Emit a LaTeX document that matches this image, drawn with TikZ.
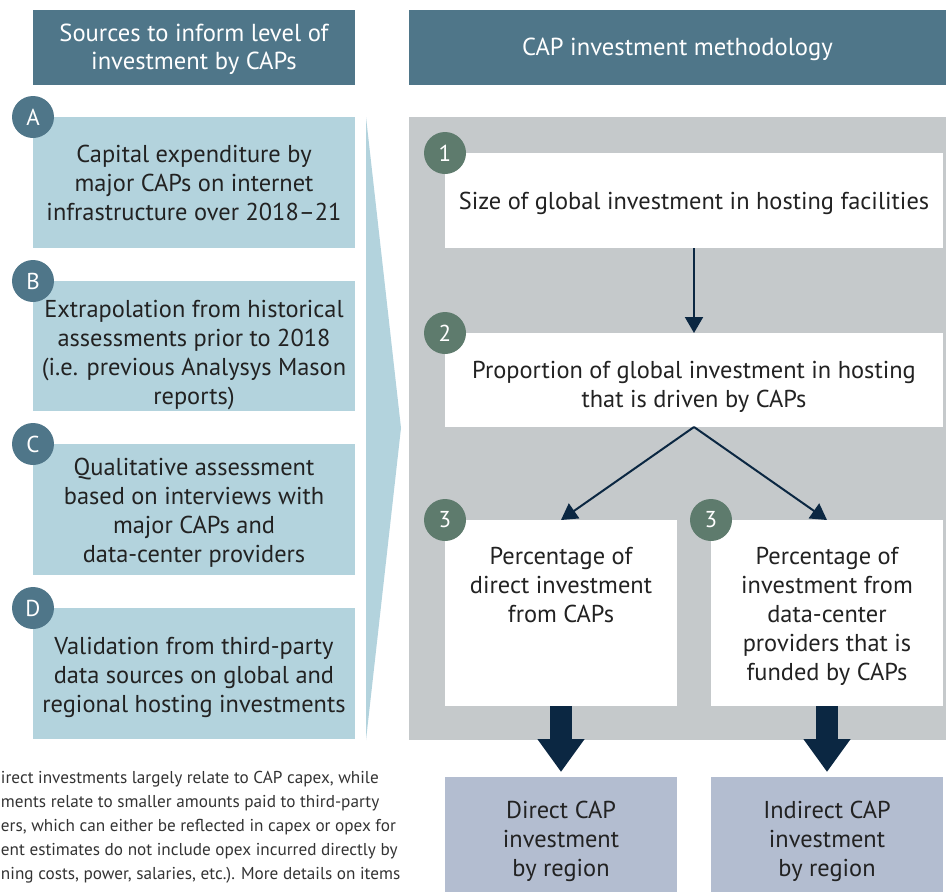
\documentclass[tikz,border=0pt]{standalone}
\usepackage{fontspec}
\setmainfont{PT Sans}
\usetikzlibrary{positioning,arrows.meta}
\definecolor{headblue}{HTML}{4F7689}
\definecolor{srcblue}{HTML}{B3D3DD}
\definecolor{panelgray}{HTML}{C5C9CB}
\definecolor{stepgreen}{HTML}{5E7B6D}
\definecolor{arrownavy}{HTML}{0B2742}
\definecolor{resultblue}{HTML}{B3BDD0}
\definecolor{inktext}{HTML}{222222}
\definecolor{notetext}{HTML}{333333}

\begin{document}
\begin{tikzpicture}
    [x=1pt,y=-1pt,every node/.style={inner sep=0pt,outer sep=0pt,align=center,
    text=inktext,font=\fontsize{24.4}{29}\selectfont},
    drop/.style={execute at begin node={\rule{0pt}{#1pt}}},
    header/.style={fill=headblue,text=white,minimum height=75,anchor=north west,
      font=\fontsize{24.6}{28}\selectfont},
    srcbox/.style={fill=srcblue,minimum width=322,minimum height=131,anchor=north west},
    stepbox/.style={fill=white,anchor=north west},
    resultbox/.style={fill=resultblue,minimum width=232,minimum height=124,anchor=north west,drop=80},
    badge/.style={circle,minimum size=42,text=white,font=\fontsize{23}{23}\selectfont},
    flow/.style={draw=arrownavy,line width=2,-{Triangle[length=16,width=18]}},
    bigflow/.style={draw=arrownavy,line width=22,-{Triangle[length=33,width=45]},shorten >=5}]
    \clip (0,0) rectangle (946,892);
    % headers
    \node (hsrc) [header,minimum width=322,drop=50] at (33,10) {Sources to inform level of\\investment by CAPs};
    \node (hmeth) [header,minimum width=537,drop=22] at (409,10) {CAP investment methodology};
    % left column
    \node (srcA) [srcbox] at (33,117) {Capital expenditure by\\major CAPs on internet\\infrastructure over 2018--21};
    \node (srcB) [srcbox,minimum height=130,drop=123] at (33,281) {Extrapolation from historical\\assessments prior to 2018\\(i.e. previous Analysys Mason\\reports)};
    \node (srcC) [srcbox,drop=111] at (33,444) {Qualitative assessment\\based on interviews with\\major CAPs and\\data-center providers};
    \node (srcD) [srcbox,drop=84] at (33,608) {Validation from third-party\\data sources on global and\\regional hosting investments};
    \foreach \s/\l in {A/A,B/B,C/C,D/D}
      \node (badge\s) [badge,fill=headblue] at (src\s.north west) {\l};
    \fill[srcblue] (366,117) -- (401,428) -- (366,740) -- cycle;
    % methodology panel
    \fill[panelgray] (409,117) rectangle (946,740);
    \node (step1) [stepbox,minimum width=498,minimum height=95,drop=24] at (445,153) {Size of global investment in hosting facilities};
    \node (step2) [stepbox,minimum width=498,minimum height=94,drop=59] at (445,333) {Proportion of global investment in hosting\\that is driven by CAPs};
    \node (step3a) [stepbox,minimum width=232,minimum height=186] at (445,520) {};
    \node (step3b) [stepbox,minimum width=232,minimum height=186] at (711,520) {};
    \node (txt3a) [anchor=north] at ([yshift=-27]step3a.north) {Percentage of\\direct investment\\from CAPs};
    \node (txt3b) [anchor=north] at ([yshift=-27]step3b.north) {Percentage of\\investment from\\data-center\\providers that is\\funded by CAPs};
    \node (badge1) [badge,fill=stepgreen] at (step1.north west) {1};
    \node (badge2) [badge,fill=stepgreen] at (step2.north west) {2};
    \node (badge3a) [badge,fill=stepgreen] at (step3a.north west) {3};
    \node (badge3b) [badge,fill=stepgreen] at (step3b.north west) {3};
    \draw[flow] (step1) -- (step2);
    \draw[flow] (step2.south) -- (step3a.north);
    \draw[flow] (step2.south) -- (step3b.north);
    % results
    \node (res1) [resultbox] at (445,777) {Direct CAP\\investment\\by region};
    \node (res2) [resultbox] at (711,777) {Indirect CAP\\investment\\by region};
    \draw[bigflow] (step3a.south) -- (res1.north);
    \draw[bigflow] (step3b.south) -- (res2.north);
    % note
    \node (note) [anchor=north west,align=left,text=notetext,font=\fontsize{17.2}{24}\selectfont] at (1,771)
      {irect investments largely relate to CAP capex, while\\ments relate to smaller amounts paid to third-party\\ers, which can either be reflected in capex or opex for\\ent estimates do not include opex incurred directly by\\ning costs, power, salaries, etc.). More details on items};
  \end{tikzpicture}
\end{document}
